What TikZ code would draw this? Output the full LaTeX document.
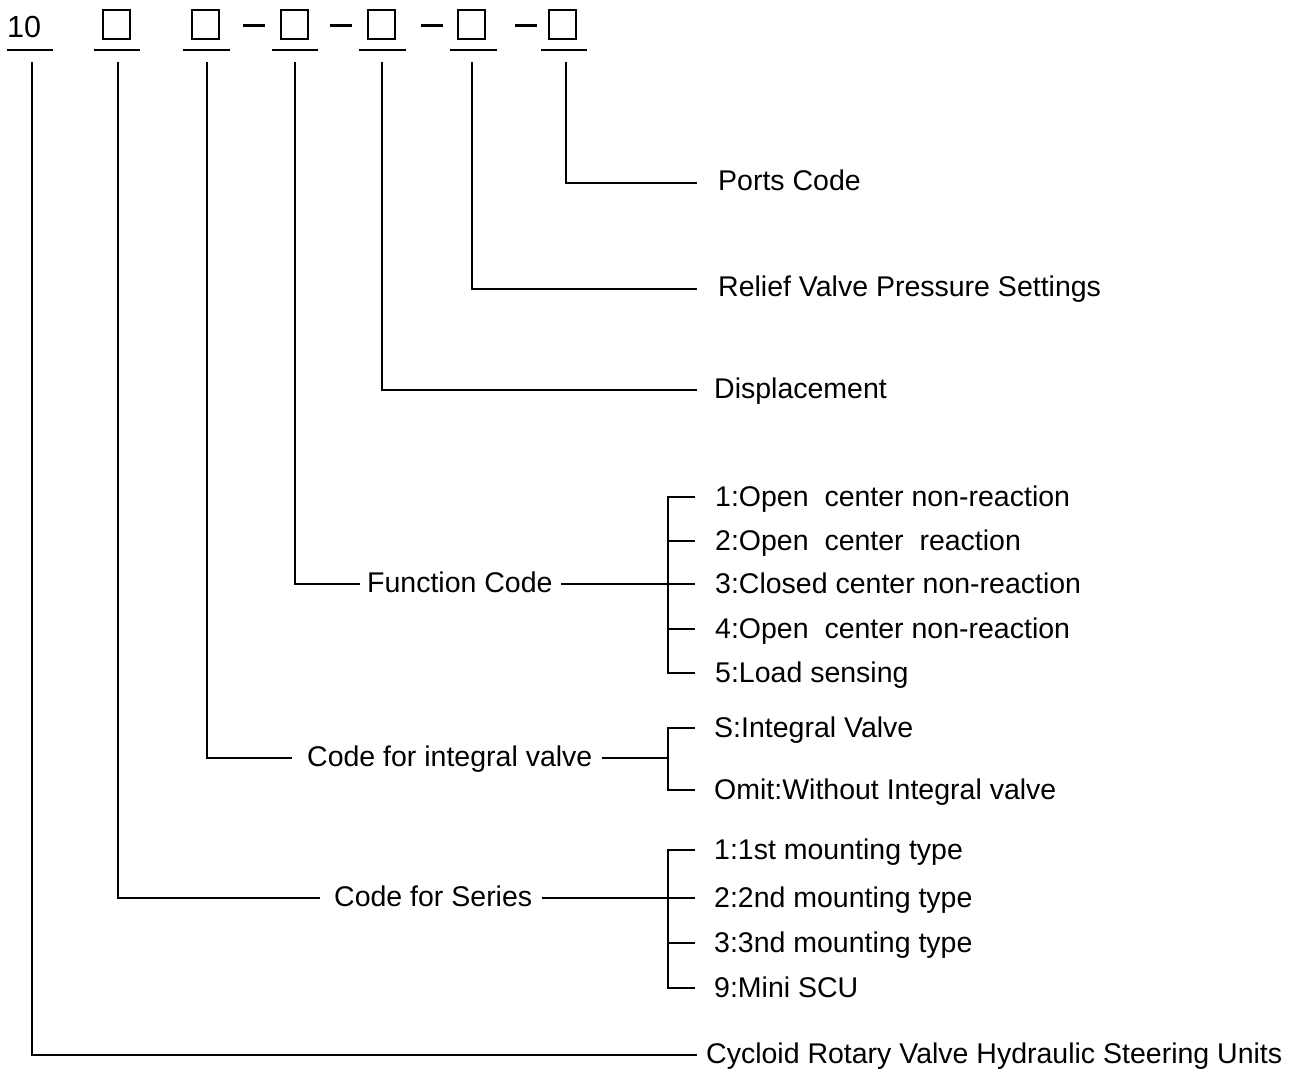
\documentclass[tikz,border=0pt]{standalone}
\usepackage{fontspec}
\setmainfont{Liberation Sans}
\begin{document}
\begin{tikzpicture}[x=1pt,y=-1pt,
  lbl/.style={anchor=west,inner sep=0pt,text height=19.8pt,text depth=0pt,font=\fontsize{28.5}{34}\selectfont},
  ln/.style={line width=1.7pt},
  codebox/.style={draw,line width=1.5pt,minimum width=27pt,minimum height=29pt,inner sep=0pt,anchor=north west},
  dashmark/.style={line width=3pt}]
\useasboundingbox (0,0) rectangle (1296,1071);
% top row
\node[anchor=base west,inner sep=0pt,font=\fontsize{30.5}{36}\selectfont] (ten) at (7,37) {10};
\node[codebox] (b1) at (102,9) {};
\node[codebox] (b2) at (191,9) {};
\node[codebox] (b3) at (280,9) {};
\node[codebox] (b4) at (367,9) {};
\node[codebox] (b5) at (457,9) {};
\node[codebox] (b6) at (548,9) {};
\draw[dashmark] (243,25) -- (265,25);
\draw[dashmark] (330,25) -- (352,25);
\draw[dashmark] (421,25) -- (443,25);
\draw[dashmark] (515,25) -- (537,25);
% underlines
\draw[ln] (7,50) -- (53,50);
\draw[ln] (94,50) -- (140,50);
\draw[ln] (183,50) -- (230,50);
\draw[ln] (272,50) -- (318,50);
\draw[ln] (359,50) -- (406,50);
\draw[ln] (450,50) -- (497,50);
\draw[ln] (541,50) -- (587,50);
% vertical starts
\coordinate (v0) at (32,62);
\coordinate (v1) at (118,62);
\coordinate (v2) at (207,62);
\coordinate (v3) at (295,62);
\coordinate (v4) at (382,62);
\coordinate (v5) at (472,62);
\coordinate (v6) at (566,62);
% right labels
\node[lbl] (ports) at (718,181) {Ports Code};
\node[lbl] (relief) at (718,287) {Relief Valve Pressure Settings};
\node[lbl] (disp) at (714,389) {Displacement};
\node[lbl] (cyc) at (706,1054) {Cycloid Rotary Valve Hydraulic Steering Units};
\coordinate (pe) at (697,183);
\coordinate (re) at (697,289);
\coordinate (de) at (697,390);
\coordinate (ce) at (697,1055);
\draw[ln] (v6) |- (pe);
\draw[ln] (v5) |- (re);
\draw[ln] (v4) |- (de);
\draw[ln] (v0) |- (ce);
% function code
\node[lbl] (func) at (367,583) {Function Code};
\coordinate (fj) at (668,584);
\coordinate (fbm) at (668,673);
\draw[ln] (v3) |- ([xshift=-7pt,yshift=-1pt]func.west);
\draw[ln] ([xshift=8pt,yshift=-1pt]func.east) -- (fj);
\node[lbl] (f1) at (715,497) {1:Open\ \ center non-reaction};
\node[lbl] (f2) at (715,541) {2:Open\ \ center\ \ reaction};
\node[lbl] (f3) at (715,584) {3:Closed center non-reaction};
\node[lbl] (f4) at (715,629) {4:Open\ \ center non-reaction};
\node[lbl] (f5) at (715,673) {5:Load sensing};
\draw[ln] ([xshift=-20pt]f1.west) -| (fbm) -- ([xshift=-20pt]f5.west);
\draw[ln] (668,541) -- ([xshift=-20pt]f2.west);
\draw[ln] (fj) -- ([xshift=-20pt]f3.west);
\draw[ln] (668,629) -- ([xshift=-20pt]f4.west);
% integral valve
\node[lbl] (integ) at (307,757) {Code for integral valve};
\coordinate (ij) at (668,758);
\coordinate (ibm) at (668,790);
\draw[ln] (v2) |- ([xshift=-15pt,yshift=-1pt]integ.west);
\draw[ln] ([xshift=9pt,yshift=-1pt]integ.east) -- (ij);
\node[lbl] (i1) at (714,728) {S:Integral Valve};
\node[lbl] (i2) at (714,790) {Omit:Without Integral valve};
\draw[ln] ([xshift=-19pt]i1.west) -| (ibm) -- ([xshift=-19pt]i2.west);
% series
\node[lbl] (ser) at (334,897) {Code for Series};
\coordinate (sj) at (668,898);
\coordinate (sbm) at (668,988);
\draw[ln] (v1) |- ([xshift=-14pt,yshift=-1pt]ser.west);
\draw[ln] ([xshift=10pt,yshift=-1pt]ser.east) -- (sj);
\node[lbl] (s1) at (714,850) {1:1st mounting type};
\node[lbl] (s2) at (714,898) {2:2nd mounting type};
\node[lbl] (s3) at (714,943) {3:3nd mounting type};
\node[lbl] (s4) at (714,988) {9:Mini SCU};
\draw[ln] ([xshift=-19pt]s1.west) -| (sbm) -- ([xshift=-19pt]s4.west);
\draw[ln] (sj) -- ([xshift=-19pt]s2.west);
\draw[ln] (668,943) -- ([xshift=-19pt]s3.west);
\end{tikzpicture}
\end{document}
